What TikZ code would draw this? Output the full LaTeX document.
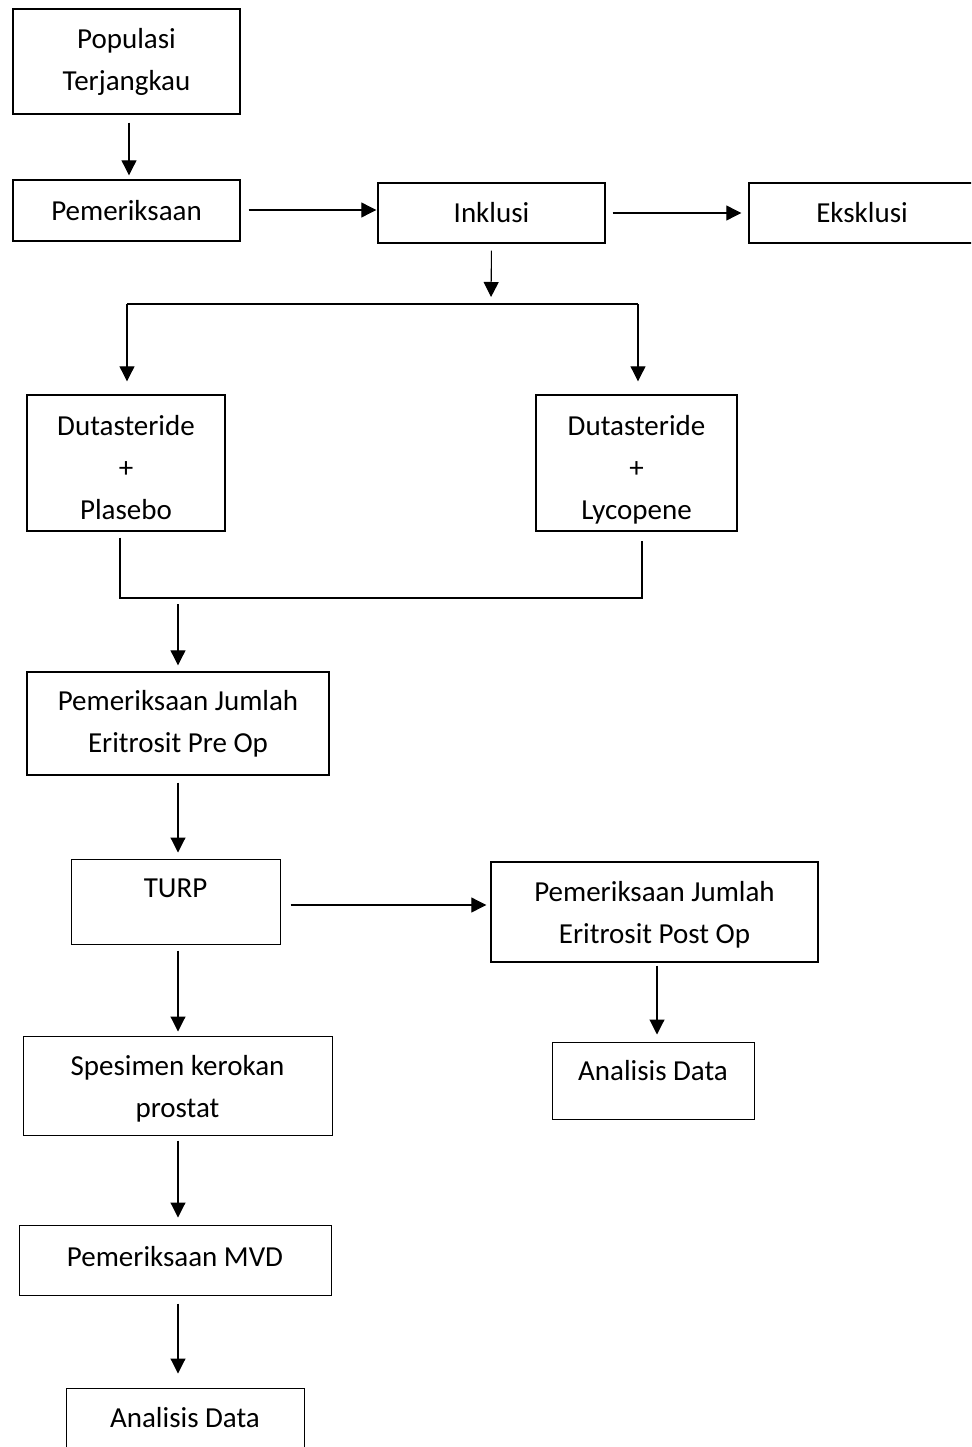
\documentclass[tikz,border=0pt]{standalone}
\usepackage{fontspec}
\setmainfont{Carlito}
\usepackage{tikz}
\usetikzlibrary{arrows.meta,calc}

\newcommand{\topgap}[1]{\rule{0pt}{#1}}
\newcommand{\botgap}[1]{\rule[-#1]{0pt}{0pt}}

\begin{document}
\begin{tikzpicture}[
    x=1pt, y=-1pt,
    box/.style={rectangle, draw, line width=1.4pt, align=center, inner sep=0pt, font=\fontsize{29}{42}\selectfont},
    arrow/.style={-{Triangle[length=15pt,width=15pt]}, line width=1.1pt},
    line/.style={line width=1.1pt}
]
\clip (0,0) rectangle (971,1447);

% Recruitment
\node[box, minimum width=227pt, minimum height=105pt] (popu) at (126.5,61.5) {Populasi\\Terjangkau};
\node[box, minimum width=227pt, minimum height=61pt] (pem) at (126.5,210.5) {Pemeriksaan};
\node[box, minimum width=227pt, minimum height=60pt] (inkl) at (491.5,213) {Inklusi};
\node[box, minimum width=226pt, minimum height=60pt] (eksk) at (862,213) {Eksklusi};

% Groups
\node[box, minimum width=198pt, minimum height=136pt] (dplas) at (126,463) {\topgap{35pt}Dutasteride\\+\\Plasebo\botgap{6.4pt}};
\node[box, minimum width=201pt, minimum height=136pt] (dlyco) at (636.5,463) {\topgap{35pt}Dutasteride\\+\\Lycopene\botgap{6.4pt}};

% Measurements
\node[box, minimum width=302pt, minimum height=103pt] (preop) at (178,723.5) {Pemeriksaan Jumlah\\Eritrosit Pre Op};
\node[box, line width=1pt, minimum width=209pt, minimum height=85pt, text height=19pt, text depth=27pt] (turp) at (175.5,901.5) {TURP};
\node[box, minimum width=327pt, minimum height=100pt] (postop) at (654.5,912) {\topgap{26.5pt}Pemeriksaan Jumlah\\Eritrosit Post Op};
\node[box, line width=1pt, minimum width=309pt, minimum height=99pt] (spes) at (177.5,1085.5) {\topgap{26.5pt}Spesimen kerokan\\prostat};
\node[box, line width=1pt, minimum width=202pt, minimum height=77pt, text height=19pt, text depth=19.5pt] (anar) at (653,1080.5) {Analisis Data};
\node[box, line width=1pt, minimum width=312pt, minimum height=70pt, text height=20.3pt, text depth=8pt] (mvd) at (175,1260) {Pemeriksaan MVD};
\node[box, line width=1pt, minimum width=238pt, minimum height=77pt, text height=19pt, text depth=18pt] (anab) at (185,1426.5) {Analisis Data};

% Split and merge points
\coordinate (split) at (491,304);
\coordinate (merge) at (178,598);

% Arrows
\draw[arrow, shorten <=8pt, shorten >=4pt] ([xshift=2.5pt]popu.south) -- ([xshift=2.5pt]pem.north);
\draw[arrow, shorten <=8pt, shorten >=1pt] ([yshift=0.5pt]pem.east) -- ([yshift=0.5pt]pem.east -| inkl.west);
\draw[arrow, shorten <=7pt, shorten >=7pt] (inkl.east) -- (eksk.west);
\draw[arrow, shorten <=7pt, shorten >=7pt] (inkl.south) -- (split);
\draw[line] ([xshift=1pt]dplas.north |- split) -- ([xshift=1.5pt]dlyco.north |- split);
\draw[arrow, shorten >=13pt] ([xshift=1pt]dplas.north |- split) -- ([xshift=1pt]dplas.north);
\draw[arrow, shorten >=13pt] ([xshift=1.5pt]dlyco.north |- split) -- ([xshift=1.5pt]dlyco.north);
\draw[line] ([xshift=-6pt,yshift=-6pt]dplas.south) |- (merge) -| ([xshift=5.5pt,yshift=-9pt]dlyco.south);
\draw[arrow, shorten <=6pt, shorten >=6pt] (merge) -- (preop.north);
\draw[arrow, shorten <=7pt, shorten >=6pt] (preop.south) -- (preop.south |- turp.north);
\draw[arrow, shorten <=10pt, shorten >=4pt] ([yshift=-3.5pt]turp.east) -- ([yshift=-3.5pt]turp.east -| postop.west);
\draw[arrow, shorten <=3pt, shorten >=7pt] ([xshift=2.5pt]postop.south) -- ([xshift=2.5pt]postop.south |- anar.north);
\draw[arrow, shorten <=6pt, shorten >=4pt] ([xshift=2.5pt]turp.south) -- ([xshift=2.5pt]turp.south |- spes.north);
\draw[arrow, shorten <=5pt, shorten >=7pt] ([xshift=0.5pt]spes.south) -- ([xshift=0.5pt]spes.south |- mvd.north);
\draw[arrow, shorten <=8pt, shorten >=14pt] ([xshift=3pt]mvd.south) -- ([xshift=3pt]mvd.south |- anab.north);

\end{tikzpicture}
\end{document}
